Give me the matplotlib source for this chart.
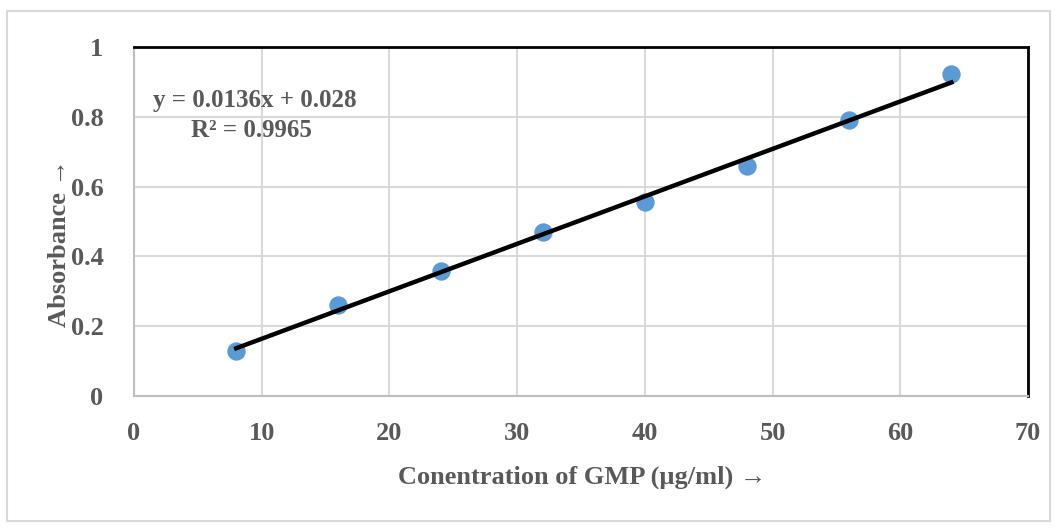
import numpy as np
import matplotlib.pyplot as plt

plt.rcParams['font.family'] = ['Liberation Serif', 'DejaVu Serif']

conc = [8, 16, 24, 32, 40, 48, 56, 64]
absorb = [0.13, 0.262, 0.358, 0.47, 0.557, 0.658, 0.79, 0.922]
slope = 0.0136
intercept = 0.028
eq_text = "y = 0.0136x + 0.028"
r2_text = "R² = 0.9965"

txt_col = '#595959'
grid_col = '#D9D9D9'

fig = plt.figure(figsize=(10.57, 5.29), dpi=100)
# outer chart frame
fig.patches.append(plt.Rectangle((7 / 1057, 1 - 521 / 529), 1043 / 1057, 510 / 529,
                                 transform=fig.transFigure, fill=False,
                                 edgecolor='#D9D9D9', lw=1.5))
ax = fig.add_axes([134 / 1057, 1 - 396 / 529, 894 / 1057, 349 / 529])

ax.scatter(conc, absorb, s=175, color='#5B9BD5', zorder=3, linewidths=0)
xs = np.array([conc[0], conc[-1]])
ax.plot(xs, slope * xs + intercept, color='black', lw=3.2, zorder=4)

ax.set_xlim(0, 70)
ax.set_ylim(0, 1)
ax.set_xticks(range(0, 71, 10))
ax.set_yticks([0, 0.2, 0.4, 0.6, 0.8, 1])
ax.set_yticklabels(['0', '0.2', '0.4', '0.6', '0.8', '1'])
ax.grid(True, color=grid_col, lw=1.5)
ax.set_axisbelow(True)
ax.tick_params(axis='x', length=0, labelsize=19, colors=txt_col, pad=19)
ax.tick_params(axis='y', length=0, labelsize=19, colors=txt_col, pad=22)
for lab in ax.get_xticklabels() + ax.get_yticklabels():
    lab.set_fontweight('bold')

ax.spines['top'].set_color('black')
ax.spines['top'].set_linewidth(2)
ax.spines['right'].set_color('black')
ax.spines['right'].set_linewidth(2)
ax.spines['left'].set_color('#BFBFBF')
ax.spines['left'].set_linewidth(1.5)
ax.spines['bottom'].set_color('#BFBFBF')
ax.spines['bottom'].set_linewidth(1.5)

ax.set_xlabel("Conentration of GMP (µg/ml) →", fontsize=19, fontweight='bold',
              color=txt_col)
ax.xaxis.set_label_coords(0.501, -0.198)
ax.set_ylabel("Absorbance →", fontsize=19, fontweight='bold', color=txt_col)
ax.yaxis.set_label_coords(-0.070, 0.438)

ax.text(1.5, 0.848, eq_text, fontsize=18, fontweight='bold', color=txt_col,
        ha='left', va='center')
ax.text(9.2, 0.762, r2_text, fontsize=18, fontweight='bold', color=txt_col,
        ha='center', va='center')

fig.savefig('out.png', dpi=100)
